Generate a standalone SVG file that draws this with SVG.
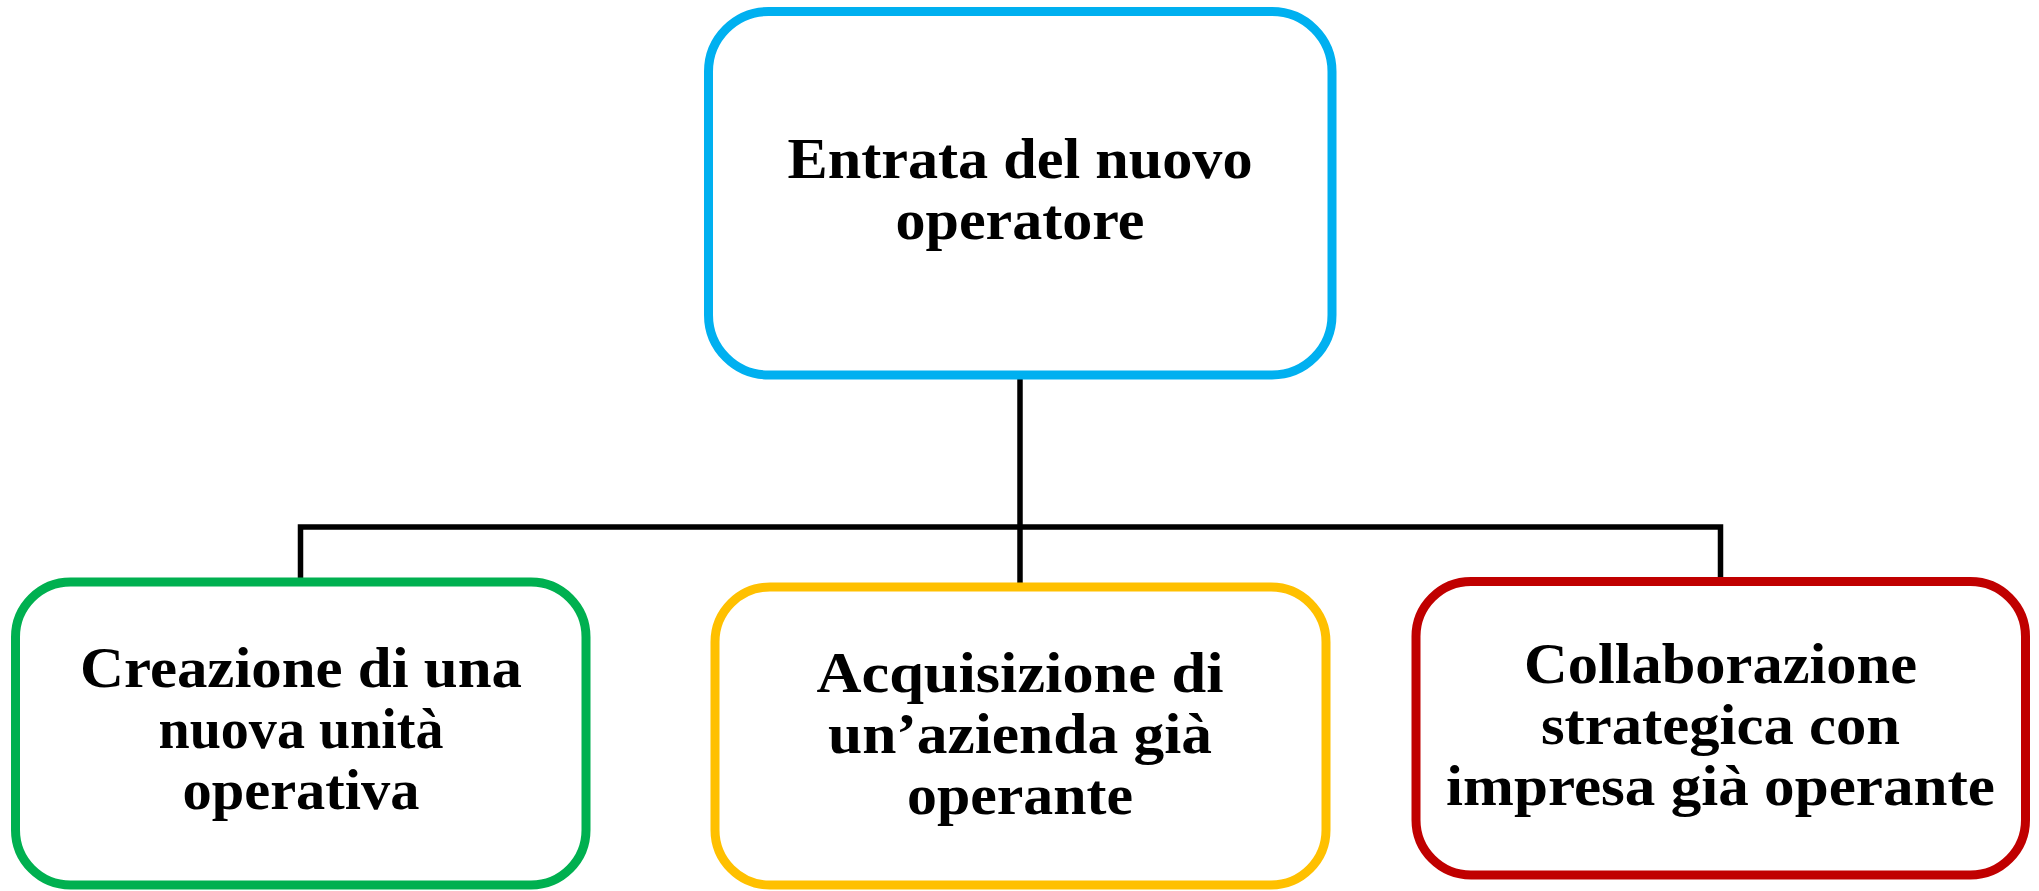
<svg xmlns="http://www.w3.org/2000/svg" width="2039" height="891" viewBox="0 0 2039 891">
<style>
.box{fill:#FFFFFF;stroke-width:9}
.t{font-family:"Liberation Serif","Times New Roman",serif;font-weight:bold;font-size:57px;fill:#000000;text-anchor:middle}
.c{stroke:#000000;stroke-width:5.5;fill:none;stroke-linecap:square}
</style>
<rect width="2039" height="891" fill="#FFFFFF"/>
<g id="connectors">
<path class="c" d="M1020,375 V587"/>
<path class="c" d="M300.5,582 V527 H1720.5 V581"/>
</g>
<g id="node-top">
<rect class="box" x="708.5" y="11.5" width="623.5" height="363.5" rx="60" stroke="#00B0F0"/>
<text class="t" x="1020" y="178" textLength="465" lengthAdjust="spacingAndGlyphs">Entrata del nuovo</text>
<text class="t" x="1020" y="239" textLength="249" lengthAdjust="spacingAndGlyphs">operatore</text>
</g>
<g id="node-creazione">
<rect class="box" x="15.5" y="582" width="570.5" height="303" rx="55" stroke="#00B050"/>
<text class="t" x="301" y="687" textLength="442" lengthAdjust="spacingAndGlyphs">Creazione di una</text>
<text class="t" x="301" y="748" textLength="285" lengthAdjust="spacingAndGlyphs">nuova unità</text>
<text class="t" x="301" y="809" textLength="237" lengthAdjust="spacingAndGlyphs">operativa</text>
</g>
<g id="node-acquisizione">
<rect class="box" x="715" y="587" width="611" height="298" rx="55" stroke="#FFC000"/>
<text class="t" x="1020" y="692" textLength="407" lengthAdjust="spacingAndGlyphs">Acquisizione di</text>
<text class="t" x="1020" y="753" textLength="384" lengthAdjust="spacingAndGlyphs">un’azienda già</text>
<text class="t" x="1020" y="814" textLength="226" lengthAdjust="spacingAndGlyphs">operante</text>
</g>
<g id="node-collaborazione">
<rect class="box" x="1416" y="581.5" width="609.5" height="293.5" rx="55" stroke="#C00000"/>
<text class="t" x="1720.5" y="683" textLength="393" lengthAdjust="spacingAndGlyphs">Collaborazione</text>
<text class="t" x="1720.5" y="744" textLength="359" lengthAdjust="spacingAndGlyphs">strategica con</text>
<text class="t" x="1720.5" y="805" textLength="549" lengthAdjust="spacingAndGlyphs">impresa già operante</text>
</g>
</svg>
